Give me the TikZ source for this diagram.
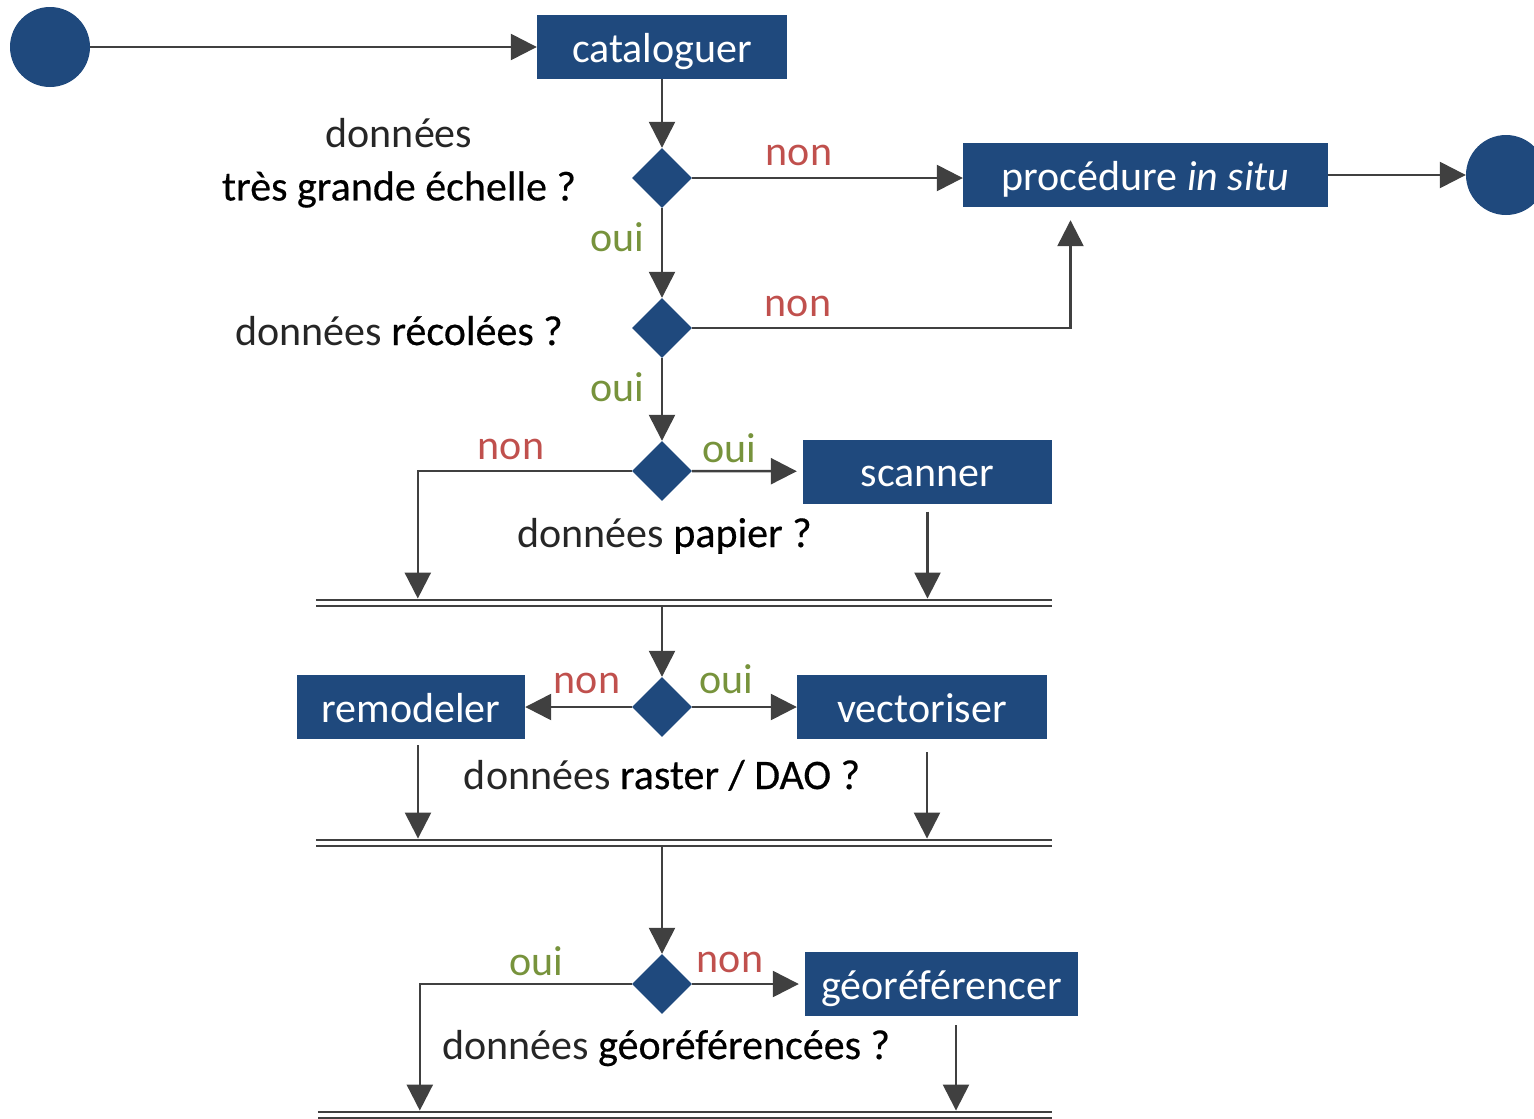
\documentclass[tikz,border=0pt]{standalone}
\usepackage{fontspec}
\setmainfont{Carlito}
\newfontfamily\keyfont{Carlito}[FakeBold=0.4]
\usetikzlibrary{shapes.geometric,arrows.meta,positioning,calc}
\definecolor{boxblue}{RGB}{31,73,125}
\definecolor{linegray}{RGB}{64,64,64}
\definecolor{nonred}{RGB}{192,80,77}
\definecolor{ouigreen}{RGB}{119,147,60}
\definecolor{lightblack}{RGB}{38,38,38}
\newcommand{\cle}[1]{{\keyfont\color{black}#1}}
\begin{document}
\begin{tikzpicture}[x=1pt,y=-1pt,
font=\fontsize{42}{53}\selectfont,
action/.style={
% the boxes:
rectangle,
fill=boxblue,
text=white,
minimum height=64pt,
minimum width=#1,
text height=32pt,
text depth=2pt,
inner sep=0pt
},
choice/.style={
diamond,
fill=boxblue,
minimum width=60pt,
minimum height=60pt,
inner sep=0pt
},
etat/.style={
circle,fill=boxblue,minimum size=80pt,inner sep=0pt
},
bar/.style={
minimum width=#1,minimum height=8.5pt,inner sep=0pt
},
fleche/.style={draw=linegray,line width=2.5pt,-{Triangle[length=26pt,width=26pt]}},
double bar/.style={draw=linegray,line width=2.5pt,double=white,double distance=3.5pt},
non/.style={text=nonred,anchor=base,inner sep=0pt},
oui/.style={text=ouigreen,anchor=base,inner sep=0pt},
question/.style={text=lightblack,anchor=base,inner sep=0pt}
]
\useasboundingbox (0,0) rectangle (1534,1119);
% the states
\node (debut) [etat] at (50,47) {};
\node (cataloguer) [action=250pt] at (662,47) {cataloguer};
\node (q1) [choice] at (662,178) {};
\node (insitu) [action=365pt] at (1145.5,175) {procédure \textit{in situ}};
\node (fin) [etat] at (1506,175) {};
\node (q2) [choice] at (662,328) {};
\node (q3) [choice] at (662,471) {};
\node (scanner) [action=249pt] at (927.5,471.5) {scanner};
\node (bar1) [bar=736pt] at (684,603) {};
\node (q4) [choice] at (662,707) {};
\node (remodeler) [action=228pt] at (411,707) {remodeler};
\node (vectoriser) [action=250pt] at (922,707) {vectoriser};
\node (bar2) [bar=736pt] at (684,843) {};
\node (q5) [choice] at (662,984) {};
\node (georef) [action=273pt] at (941.5,984) {géoréférencer};
\node (bar3) [bar=734pt] at (685,1115) {};
% the questions
\node (t1) [question,anchor=center,align=center] at (399,163) {données\\\cle{très grande échelle ?}};
\node (t2) [question] at (399,345) {données \cle{récolées ?}};
\node (t3) [question] at (664.5,547) {données \cle{papier ?}};
\node (t4) [question] at (662,789) {données \cle{raster / DAO ?}};
\node (t5) [question] at (666,1059) {données \cle{géoréférencées ?}};
% the answers
\node (n1) [non] at (799,165) {non};
\node (o1) [oui] at (617,251) {oui};
\node (n2) [non] at (798,316) {non};
\node (o2) [oui] at (617,401) {oui};
\node (n3) [non] at (511,459) {non};
\node (o3) [oui] at (729,462) {oui};
\node (n4) [non] at (587,693) {non};
\node (o4) [oui] at (726,693) {oui};
\node (o5) [oui] at (536,975) {oui};
\node (n5) [non] at (730,972) {non};
% bars
\draw[double bar] (bar1.west) -- (bar1.east);
\draw[double bar] (bar2.west) -- (bar2.east);
\draw[double bar] (bar3.west) -- (bar3.east);
% connectors
\draw[fleche] (debut) -- (cataloguer);
\draw[fleche] (cataloguer) -- (q1);
\draw[fleche] (q1.east) -- (q1.east -| insitu.west);
\draw[fleche] (insitu) -- (fin);
\draw[fleche] (q1) -- (q2);
\draw[fleche,shorten >=13pt] (q2.east) -| ([xshift=-75pt]insitu.south);
\draw[fleche] (q2) -- (q3);
\draw[fleche] (q3.west) -| ([xshift=102pt]bar1.north west);
\draw[fleche,shorten >=6pt] (q3) -- (scanner);
\draw[fleche] ([yshift=-8pt]scanner.south) -- (scanner.south |- bar1.north);
\draw[fleche] (q4 |- bar1.south) -- (q4);
\draw[fleche] (q4) -- (remodeler);
\draw[fleche] (q4) -- (vectoriser);
\draw[fleche] ([xshift=7pt,yshift=-6pt]remodeler.south) -- ([xshift=7pt]remodeler.south |- bar2.north);
\draw[fleche] ([xshift=5pt,yshift=-13pt]vectoriser.south) -- ([xshift=5pt]vectoriser.south |- bar2.north);
\draw[fleche] (q5 |- bar2.south) -- (q5);
\draw[fleche] (q5.west) -| ([xshift=102pt]bar3.north west);
\draw[fleche,shorten >=6pt] (q5) -- (georef);
\draw[fleche] ([xshift=14.5pt,yshift=-9pt]georef.south) -- ([xshift=14.5pt]georef.south |- bar3.north);
\end{tikzpicture}
\end{document}
